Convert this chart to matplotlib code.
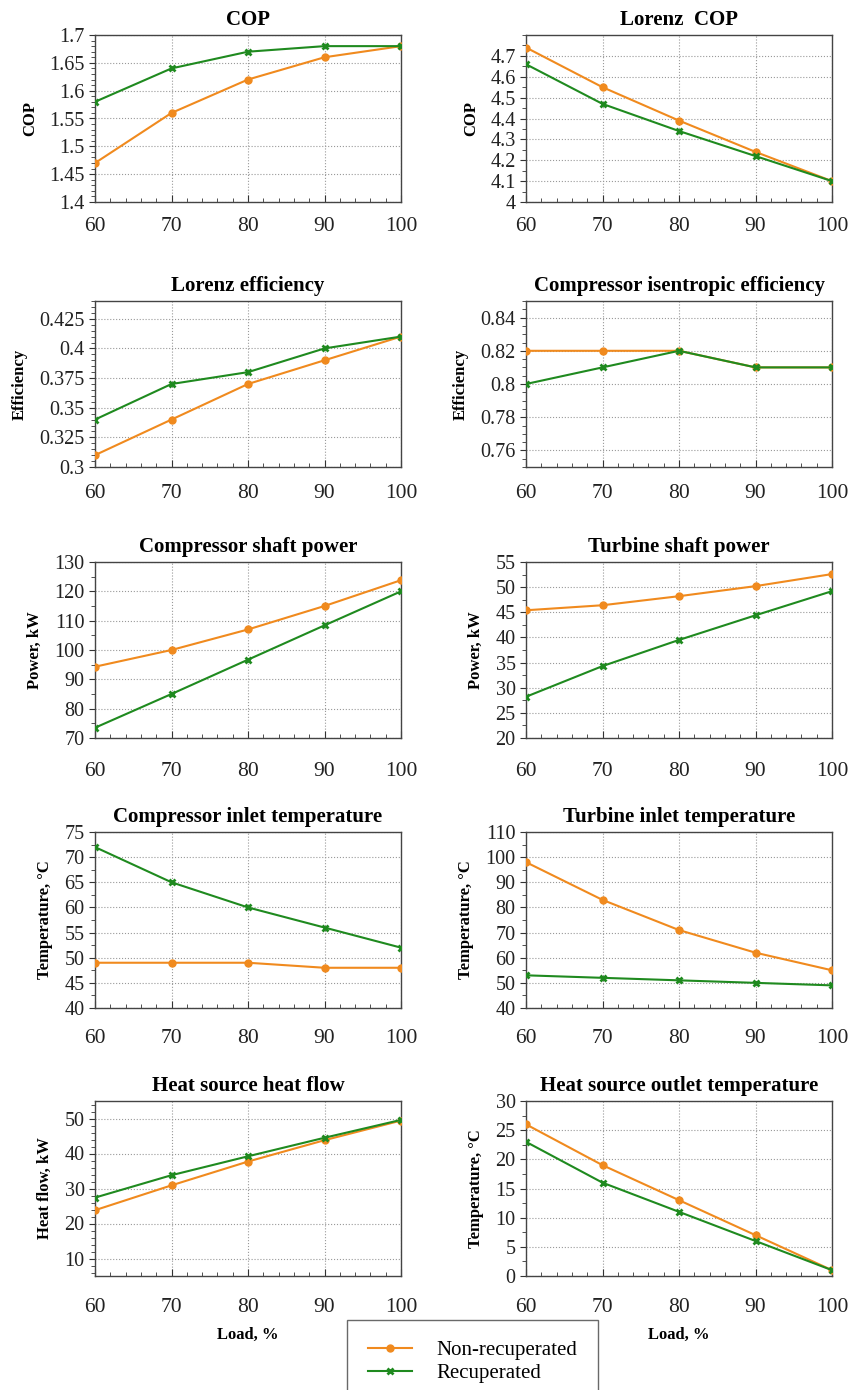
import numpy as np
from matplotlib import pyplot as plt
from matplotlib.ticker import MultipleLocator, FuncFormatter

plt.rcParams['font.family'] = ['Liberation Serif', 'DejaVu Serif']

load = [60, 70, 80, 90, 100]

cop_non = [1.47, 1.56, 1.62, 1.66, 1.68]
cop_rec = [1.58, 1.64, 1.67, 1.68, 1.68]

lorenz_cop_non = [4.74, 4.55, 4.39, 4.24, 4.10]
lorenz_cop_rec = [4.66, 4.47, 4.34, 4.22, 4.10]

lorenz_eff_non = [0.31, 0.34, 0.37, 0.39, 0.41]
lorenz_eff_rec = [0.34, 0.37, 0.38, 0.40, 0.41]

isen_eff_non = [0.82, 0.82, 0.82, 0.81, 0.81]
isen_eff_rec = [0.80, 0.81, 0.82, 0.81, 0.81]

comp_power_non = [94.3, 100.0, 107.0, 115.0, 123.8]
comp_power_rec = [73.5, 85.0, 96.7, 108.4, 120.0]

turb_power_non = [45.4, 46.4, 48.2, 50.2, 52.6]
turb_power_rec = [28.2, 34.3, 39.5, 44.4, 49.2]

comp_inlet_non = [49, 49, 49, 48, 48]
comp_inlet_rec = [72, 65, 60, 56, 52]

turb_inlet_non = [98, 83, 71, 62, 55]
turb_inlet_rec = [53, 52, 51, 50, 49]

heat_flow_non = [23.8, 30.9, 37.7, 43.8, 49.4]
heat_flow_rec = [27.4, 33.8, 39.2, 44.5, 49.6]

source_out_non = [26, 19, 13, 7, 1]
source_out_rec = [23, 16, 11, 6, 1]

ORANGE = '#F08A1E'
GREEN = '#1F8A1F'

# (title, ylabel, non, rec, ymin, ymax, major, minor)
panels = [
    ('COP', 'COP', cop_non, cop_rec, 1.4, 1.7, 0.05, 0.01),
    ('Lorenz  COP', 'COP', lorenz_cop_non, lorenz_cop_rec, 4.0, 4.8, 0.1, 0.05),
    ('Lorenz efficiency', 'Efficiency', lorenz_eff_non, lorenz_eff_rec, 0.3, 0.44, 0.025, 0.005),
    ('Compressor isentropic efficiency', 'Efficiency', isen_eff_non, isen_eff_rec, 0.75, 0.85, 0.02, 0.005),
    ('Compressor shaft power', 'Power, kW', comp_power_non, comp_power_rec, 70, 130, 10, 5),
    ('Turbine shaft power', 'Power, kW', turb_power_non, turb_power_rec, 20, 55, 5, 2.5),
    ('Compressor inlet temperature', 'Temperature, °C', comp_inlet_non, comp_inlet_rec, 40, 75, 5, 2.5),
    ('Turbine inlet temperature', 'Temperature, °C', turb_inlet_non, turb_inlet_rec, 40, 110, 10, 5),
    ('Heat source heat flow', 'Heat flow, kW', heat_flow_non, heat_flow_rec, 5, 55, 10, 2),
    ('Heat source outlet temperature', 'Temperature, °C', source_out_non, source_out_rec, 0, 30, 5, 2.5),
]

# axes boxes in pixels (left, top, right, bottom) on a 850x1390 canvas
W, H = 850.0, 1390.0
col_x = [(95, 401), (526, 832)]
row_y = [(35, 202), (301, 467), (562, 738), (832, 1008), (1101, 1276)]
# gap between axis and x tick labels differs a bit per row in the original
row_xpad = [10.5, 12, 17, 15, 16]

fig = plt.figure(figsize=(8.5, 13.9), dpi=100)


def fmt(v, pos):
    return '%g' % (round(v, 4) + 0.0)


for i, p in enumerate(panels):
    title, ylabel, non, rec, ymin, ymax, major, minor = p
    row = i // 2
    col = i % 2
    x0, x1 = col_x[col]
    y0, y1 = row_y[row]
    ax = fig.add_axes([x0 / W, 1 - y1 / H, (x1 - x0) / W, (y1 - y0) / H])

    ax.plot(load, non, color=ORANGE, marker='o', markersize=5, linewidth=1.5,
            label='Non-recuperated', zorder=3)
    ax.plot(load, rec, color=GREEN, marker='x', markersize=5, markeredgewidth=2,
            linewidth=1.5, label='Recuperated', zorder=3)

    ax.set_xlim(60, 100)
    ax.set_ylim(ymin, ymax)
    ax.xaxis.set_major_locator(MultipleLocator(10))
    ax.xaxis.set_minor_locator(MultipleLocator(2))
    # major ticks stay below the top (e.g. 4.8 has no label)
    first = np.ceil(ymin / major - 1e-9) * major
    ticks = np.arange(first, ymax + 1e-9, major)
    if title == 'Lorenz  COP':
        ticks = ticks[ticks < 4.75]
    ax.set_yticks(ticks)
    ax.yaxis.set_minor_locator(MultipleLocator(minor))
    ax.yaxis.set_major_formatter(FuncFormatter(fmt))

    ax.tick_params(axis='x', which='both', direction='in', labelsize=15.5, colors='#333333',
                   labelcolor='#222222', pad=row_xpad[row])
    ax.tick_params(axis='x', which='major', length=5)
    ax.tick_params(axis='x', which='minor', length=3)
    ax.tick_params(axis='y', which='both', direction='out', labelsize=14.5, colors='#333333',
                   labelcolor='#222222', pad=3.5)
    ax.tick_params(axis='y', which='major', length=4)
    ax.tick_params(axis='y', which='minor', length=3)

    ax.grid(True, which='major', color='#999999', linestyle=':', linewidth=0.8)
    for s in ax.spines.values():
        s.set_color('#444444')
        s.set_linewidth(1.0)

    ax.set_title(title, fontsize=15, fontweight='bold', pad=7)
    ax.set_ylabel(ylabel, fontsize=12, fontweight='bold', labelpad=8)
    if row == 4:
        ax.set_xlabel('Load, %', fontsize=12, fontweight='bold', labelpad=7)

handles, labels = ax.get_legend_handles_labels()
leg = fig.legend(handles, labels, loc='upper left', bbox_to_anchor=(347 / W, 1 - 1320 / H),
                 fontsize=15, frameon=True, fancybox=False, edgecolor='#444444',
                 handlelength=2.1, handletextpad=1.2, borderpad=1.0, labelspacing=0.15,
                 borderaxespad=0)
leg.get_frame().set_linewidth(1.0)

plt.savefig('out.png', dpi=100)
